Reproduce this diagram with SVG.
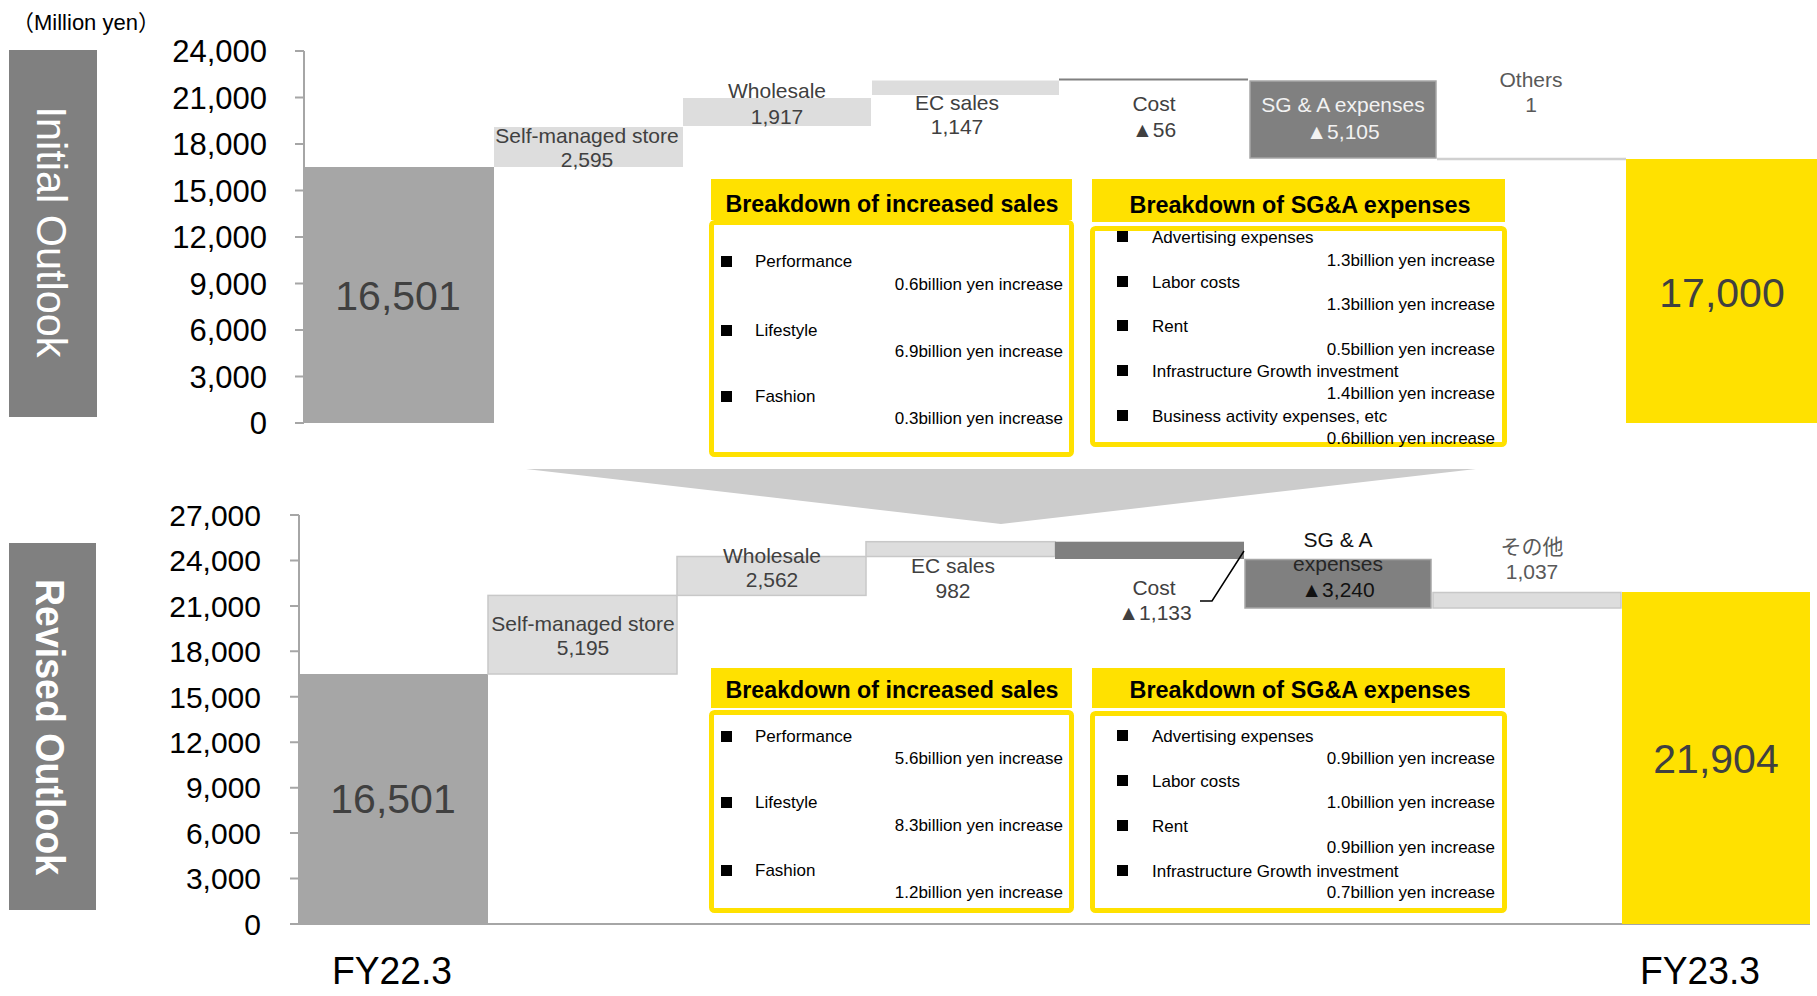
<svg xmlns="http://www.w3.org/2000/svg" width="1817" height="996" viewBox="0 0 1817 996">
<style>
text{font-family:"Liberation Sans","DejaVu Sans","Noto Sans CJK JP",sans-serif}
.ax{font-size:31px;fill:#000;text-anchor:end}
.axb{font-size:30px;fill:#000;text-anchor:end}
.lbl{font-size:21px;fill:#404040;text-anchor:middle}
.lblg{font-size:21px;fill:#595959;text-anchor:middle}
.big{font-size:41px;fill:#404040;text-anchor:middle}
.hd{font-size:24px;font-weight:bold;fill:#000;text-anchor:middle}
.it{font-size:17px;fill:#000}
.val{font-size:17px;fill:#000;text-anchor:end}
.fy{font-size:38px;fill:#000;text-anchor:middle}
.side{font-size:42px;fill:#fff;text-anchor:middle}
.axis{stroke:#a6a6a6;stroke-width:2;fill:none}
.hdr{fill:#FFE100}
.box{fill:#fff;stroke:#FFE100;stroke-width:5}
.light{fill:#dddddd}
.lightb{fill:#dddddd;stroke:#c8c8c8;stroke-width:1.5}
.dark{fill:#808080;stroke:#a6a6a6;stroke-width:1.5}
.total{fill:#a6a6a6}
.yel{fill:#FFE100}
.bul{fill:#000}
</style>

<text x="12" y="30" style="font-size:22px;fill:#000">（Million yen）</text>

<!-- Side labels -->
<g id="initial-outlook-label">
<rect x="9" y="50" width="88" height="367" fill="#808080"/>
<text class="side" transform="translate(37,232) rotate(90)" textLength="251" lengthAdjust="spacingAndGlyphs">Initial Outlook</text>
</g>
<g id="revised-outlook-label">
<rect x="9" y="543" width="87" height="367" fill="#808080"/>
<text class="side" style="font-weight:bold;font-size:41px" transform="translate(36,727) rotate(90)" textLength="296" lengthAdjust="spacingAndGlyphs">Revised Outlook</text>
</g>

<!-- Top axis -->
<g id="top-axis">
<path class="axis" d="M304 51V423M295 51H304M295 97.5H304M295 144H304M295 190.5H304M295 237H304M295 283.5H304M295 330H304M295 376.5H304M295 423H304"/>
<text class="ax" x="267" y="62">24,000</text>
<text class="ax" x="267" y="108.5">21,000</text>
<text class="ax" x="267" y="155">18,000</text>
<text class="ax" x="267" y="201.5">15,000</text>
<text class="ax" x="267" y="248">12,000</text>
<text class="ax" x="267" y="294.5">9,000</text>
<text class="ax" x="267" y="341">6,000</text>
<text class="ax" x="267" y="387.5">3,000</text>
<text class="ax" x="267" y="434">0</text>
</g>

<!-- Top chart bars -->
<g id="top-fy22">
<rect class="total" x="305" y="167" width="189" height="256"/>
<text class="big" x="398" y="310">16,501</text>
</g>
<g id="top-self-managed">
<rect class="light" x="494" y="127" width="189" height="40"/>
<text class="lbl" x="587" y="143">Self-managed store</text>
<text class="lbl" x="587" y="167">2,595</text>
</g>
<g id="top-wholesale">
<rect class="light" x="683" y="98" width="188" height="28"/>
<text class="lbl" x="777" y="98">Wholesale</text>
<text class="lbl" x="777" y="124">1,917</text>
</g>
<g id="top-ec">
<rect class="light" x="872" y="80.5" width="187" height="14.5"/>
<text class="lbl" x="957" y="110">EC sales</text>
<text class="lbl" x="957" y="134">1,147</text>
</g>
<g id="top-cost">
<line x1="1059" y1="79.5" x2="1248" y2="79.5" stroke="#808080" stroke-width="2"/>
<text class="lbl" x="1154" y="111">Cost</text>
<text class="lbl" x="1154" y="137">▲56</text>
</g>
<g id="top-sga">
<rect class="dark" x="1250" y="81" width="186" height="77"/>
<text class="lbl" style="fill:#f2f2f2" x="1343" y="112">SG &amp; A expenses</text>
<text class="lbl" style="fill:#f2f2f2" x="1343" y="139">▲5,105</text>
</g>
<g id="top-others">
<line x1="1437" y1="159" x2="1626" y2="159" stroke="#d0d0d0" stroke-width="2.5"/>
<text class="lblg" x="1531" y="87">Others</text>
<text class="lblg" x="1531" y="112">1</text>
</g>
<g id="top-fy23">
<rect class="yel" x="1626" y="159" width="191" height="264"/>
<text class="big" x="1722" y="307">17,000</text>
</g>

<!-- Top breakdown of increased sales -->
<g id="top-sales-breakdown">
<rect class="box" x="711.5" y="222.5" width="360" height="232" rx="3"/>
<rect class="hdr" x="711" y="179" width="361" height="41"/>
<text class="hd" x="892" y="212" textLength="333" lengthAdjust="spacingAndGlyphs">Breakdown of increased sales</text>
<rect class="bul" x="721" y="256" width="11" height="11"/>
<text class="it" x="755" y="267">Performance</text>
<text class="val" x="1063" y="290">0.6billion yen increase</text>
<rect class="bul" x="721" y="325" width="11" height="11"/>
<text class="it" x="755" y="336">Lifestyle</text>
<text class="val" x="1063" y="357">6.9billion yen increase</text>
<rect class="bul" x="721" y="391" width="11" height="11"/>
<text class="it" x="755" y="402">Fashion</text>
<text class="val" x="1063" y="424">0.3billion yen increase</text>
</g>

<!-- Top breakdown of SG&A -->
<g id="top-sga-breakdown">
<rect class="box" x="1092.5" y="228.5" width="412" height="216" rx="3"/>
<rect class="hdr" x="1092" y="179" width="413" height="43"/>
<text class="hd" x="1300" y="213" textLength="341" lengthAdjust="spacingAndGlyphs">Breakdown of SG&amp;A expenses</text>
<rect class="bul" x="1117" y="231" width="11" height="11"/>
<text class="it" x="1152" y="243">Advertising expenses</text>
<text class="val" x="1495" y="266">1.3billion yen increase</text>
<rect class="bul" x="1117" y="276" width="11" height="11"/>
<text class="it" x="1152" y="288">Labor costs</text>
<text class="val" x="1495" y="310">1.3billion yen increase</text>
<rect class="bul" x="1117" y="320" width="11" height="11"/>
<text class="it" x="1152" y="332">Rent</text>
<text class="val" x="1495" y="355">0.5billion yen increase</text>
<rect class="bul" x="1117" y="365" width="11" height="11"/>
<text class="it" x="1152" y="377">Infrastructure Growth investment</text>
<text class="val" x="1495" y="399">1.4billion yen increase</text>
<rect class="bul" x="1117" y="410" width="11" height="11"/>
<text class="it" x="1152" y="422">Business activity expenses, etc</text>
<text class="val" x="1495" y="444">0.6billion yen increase</text>
</g>

<!-- Transition arrow -->
<g id="transition-arrow">
<polygon points="526,469 1476,469 1001,524" fill="#cccccc"/>
</g>

<!-- Bottom axis -->
<g id="bottom-axis">
<path class="axis" d="M299 515V924M290 924H1810M290 515H299M290 560.4H299M290 605.9H299M290 651.3H299M290 696.8H299M290 742.2H299M290 787.7H299M290 833.1H299M290 878.6H299"/>
<text class="axb" x="261" y="525.5">27,000</text>
<text class="axb" x="261" y="571">24,000</text>
<text class="axb" x="261" y="616.5">21,000</text>
<text class="axb" x="261" y="662">18,000</text>
<text class="axb" x="261" y="707.5">15,000</text>
<text class="axb" x="261" y="753">12,000</text>
<text class="axb" x="261" y="798">9,000</text>
<text class="axb" x="261" y="844">6,000</text>
<text class="axb" x="261" y="889">3,000</text>
<text class="axb" x="261" y="935">0</text>
</g>

<!-- Bottom chart bars -->
<g id="bottom-fy22">
<rect class="total" x="299" y="674" width="189" height="250"/>
<text class="big" x="393" y="813">16,501</text>
</g>
<g id="bottom-self-managed">
<rect class="lightb" x="488" y="595.4" width="189" height="78.6"/>
<text class="lbl" x="583" y="631">Self-managed store</text>
<text class="lbl" x="583" y="655">5,195</text>
</g>
<g id="bottom-wholesale">
<rect class="lightb" x="677" y="556.5" width="189" height="38.9"/>
<text class="lbl" x="772" y="563">Wholesale</text>
<text class="lbl" x="772" y="587">2,562</text>
</g>
<g id="bottom-ec">
<rect class="lightb" x="866" y="541.7" width="189" height="14.8"/>
<text class="lbl" x="953" y="573">EC sales</text>
<text class="lbl" x="953" y="598">982</text>
</g>
<g id="bottom-cost">
<rect x="1055" y="541.7" width="189" height="17.3" fill="#808080"/>
<text class="lbl" x="1154" y="595">Cost</text>
<text class="lbl" x="1155" y="620">▲1,133</text>
</g>
<g id="bottom-sga">
<rect class="dark" x="1245" y="559.5" width="186" height="48.5"/>
<text class="lbl" style="fill:#111" x="1338" y="547">SG &amp; A</text>
<text class="lbl" style="fill:#262626" x="1338" y="571">expenses</text>
<text class="lbl" style="fill:#111" x="1338" y="597">▲3,240</text>
</g>
<g id="bottom-others">
<rect class="lightb" x="1433" y="592.5" width="188" height="15.5"/>
<text class="lblg" x="1532" y="554">その他</text>
<text class="lblg" x="1532" y="579">1,037</text>
</g>
<g id="bottom-fy23">
<rect class="yel" x="1622" y="592" width="188" height="332"/>
<text class="big" x="1716" y="773">21,904</text>
</g>

<g id="connectors">
<polyline points="1200,601 1212,601 1244,551" fill="none" stroke="#000" stroke-width="1.5"/>
</g>

<!-- Bottom breakdown of increased sales -->
<g id="bottom-sales-breakdown">
<rect class="box" x="711.5" y="712.5" width="360" height="198" rx="3"/>
<rect class="hdr" x="711" y="668" width="361" height="40"/>
<text class="hd" x="892" y="698" textLength="333" lengthAdjust="spacingAndGlyphs">Breakdown of increased sales</text>
<rect class="bul" x="721" y="731" width="11" height="11"/>
<text class="it" x="755" y="742">Performance</text>
<text class="val" x="1063" y="764">5.6billion yen increase</text>
<rect class="bul" x="721" y="797" width="11" height="11"/>
<text class="it" x="755" y="808">Lifestyle</text>
<text class="val" x="1063" y="831">8.3billion yen increase</text>
<rect class="bul" x="721" y="865" width="11" height="11"/>
<text class="it" x="755" y="876">Fashion</text>
<text class="val" x="1063" y="898">1.2billion yen increase</text>
</g>

<!-- Bottom breakdown of SG&A -->
<g id="bottom-sga-breakdown">
<rect class="box" x="1092.5" y="713.5" width="412" height="197" rx="3"/>
<rect class="hdr" x="1092" y="668" width="413" height="40"/>
<text class="hd" x="1300" y="698" textLength="341" lengthAdjust="spacingAndGlyphs">Breakdown of SG&amp;A expenses</text>
<rect class="bul" x="1117" y="730" width="11" height="11"/>
<text class="it" x="1152" y="742">Advertising expenses</text>
<text class="val" x="1495" y="764">0.9billion yen increase</text>
<rect class="bul" x="1117" y="775" width="11" height="11"/>
<text class="it" x="1152" y="787">Labor costs</text>
<text class="val" x="1495" y="808">1.0billion yen increase</text>
<rect class="bul" x="1117" y="820" width="11" height="11"/>
<text class="it" x="1152" y="832">Rent</text>
<text class="val" x="1495" y="853">0.9billion yen increase</text>
<rect class="bul" x="1117" y="865" width="11" height="11"/>
<text class="it" x="1152" y="877">Infrastructure Growth investment</text>
<text class="val" x="1495" y="898">0.7billion yen increase</text>
</g>

<text class="fy" x="392" y="984" textLength="120" lengthAdjust="spacingAndGlyphs">FY22.3</text>
<text class="fy" x="1700" y="984" textLength="120" lengthAdjust="spacingAndGlyphs">FY23.3</text>
</svg>
